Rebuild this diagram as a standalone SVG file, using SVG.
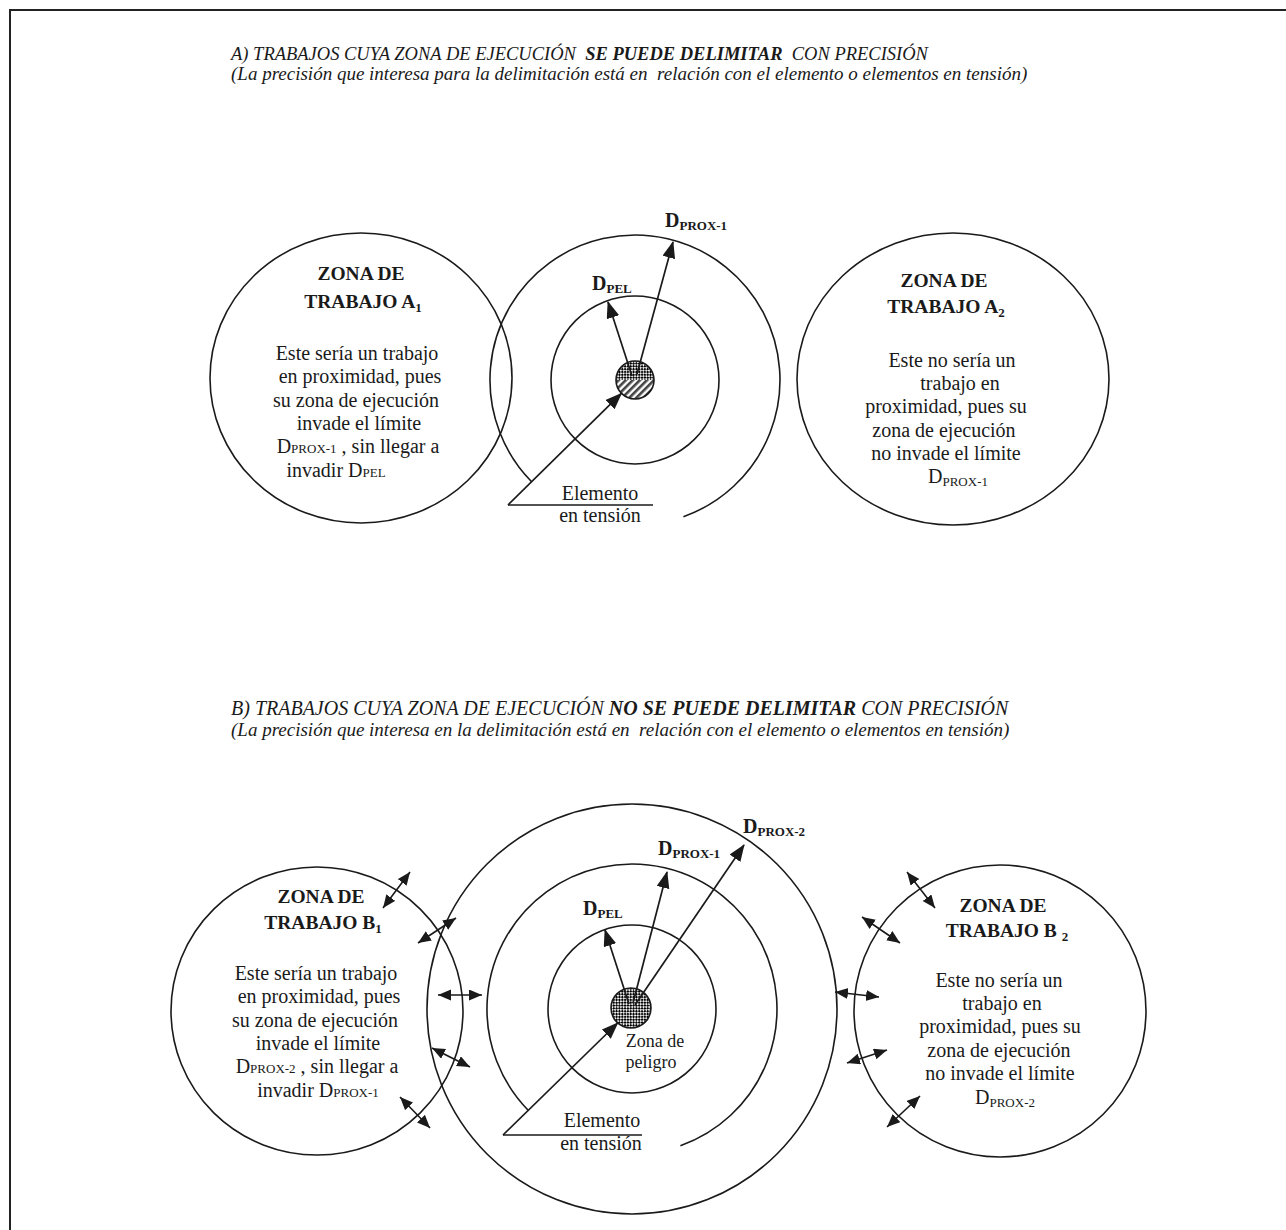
<svg xmlns="http://www.w3.org/2000/svg" width="1286" height="1230" viewBox="0 0 1286 1230">
<style>
 .ln{fill:none;stroke:#1a1a1a;stroke-width:1.6}
 .ar{fill:none;stroke:#1a1a1a;stroke-width:1.7;marker-end:url(#ah)}
 .dar{fill:none;stroke:#1a1a1a;stroke-width:1.6;marker-start:url(#dh);marker-end:url(#dh)}
 text{font-family:"Liberation Serif","Times New Roman",serif;fill:#1a1a1a}
 .t1{font-size:18.5px;font-style:italic}
 .t2{font-size:19px;font-style:italic}
 .t3{font-size:20px;font-style:italic}
 .b{font-weight:bold}
 .h{font-size:19.5px;font-weight:bold;text-anchor:middle}
 .bd{font-size:20px;text-anchor:middle}
 .lbl{font-size:20px;font-weight:bold}
 .sb{font-size:13px}
</style>
<defs>
 <marker id="ah" markerUnits="userSpaceOnUse" markerWidth="18" markerHeight="14" refX="16" refY="6.5" orient="auto"><path d="M0,0 L17,6.5 L0,13 Z" fill="#1a1a1a"/></marker>
 <marker id="dh" markerUnits="userSpaceOnUse" markerWidth="15" markerHeight="13" refX="13" refY="5.5" orient="auto-start-reverse"><path d="M0,0 L13,5.5 L0,11 Z" fill="#1a1a1a"/></marker>
 <pattern id="chk" width="4" height="4" patternUnits="userSpaceOnUse" patternTransform="rotate(45)"><rect width="4" height="4" fill="#fff"/><rect width="2.2" height="2.2" fill="#000"/><rect x="2" y="2" width="2.2" height="2.2" fill="#000"/></pattern>
 <pattern id="str" width="5" height="5" patternUnits="userSpaceOnUse" patternTransform="rotate(45)"><rect width="5" height="5" fill="#fff"/><rect width="2.6" height="5" fill="#444"/></pattern>
</defs>
<rect width="1286" height="1230" fill="#fff"/>
<path d="M10,1230 V10 H1286" fill="none" stroke="#222" stroke-width="2"/>

<g id="title-a">
 <text class="t1" x="231" y="60" xml:space="preserve">A) TRABAJOS CUYA ZONA DE EJECUCIÓN  <tspan class="b">SE PUEDE DELIMITAR</tspan>  CON PRECISIÓN</text>
 <text class="t2" x="231" y="80" xml:space="preserve">(La precisión que interesa para la delimitación está en  relación con el elemento o elementos en tensión)</text>
</g>

<g id="node-a1">
 <ellipse class="ln" cx="361" cy="378" rx="151" ry="145"/>
 <text class="h" x="361" y="280">ZONA DE</text>
 <text class="h" x="363" y="308">TRABAJO A<tspan class="sb" dy="4">1</tspan></text>
 <text class="bd" x="357" y="360">Este sería un trabajo</text>
 <text class="bd" x="360" y="383">en proximidad, pues</text>
 <text class="bd" x="356" y="407">su zona de ejecución</text>
 <text class="bd" x="359" y="430">invade el límite</text>
 <text class="bd" x="358" y="453">D<tspan class="sb">PROX-1</tspan> , sin llegar a</text>
 <text class="bd" x="336" y="477">invadir D<tspan class="sb">PEL</tspan></text>
</g>

<g id="node-a-center">
 <circle class="ln" cx="635" cy="380" r="84"/>
 <path class="ln" d="M683.4,516.7 A145,145 0 1 0 531.4,481.5"/>
 <circle cx="635" cy="380" r="19" fill="url(#chk)"/>
 <path d="M616,380 A19,19 0 0 0 654,380 Z" fill="url(#str)"/>
 <circle class="ln" cx="635" cy="380" r="19"/>
 <text class="lbl" x="592" y="290">D<tspan class="sb" dy="3">PEL</tspan></text>
 <text class="lbl" x="665" y="227">D<tspan class="sb" dy="3">PROX-1</tspan></text>
 <text class="bd" x="600" y="500">Elemento</text>
 <text class="bd" x="600" y="522">en tensión</text>
</g>

<g id="node-a2">
 <ellipse class="ln" cx="953" cy="379" rx="156" ry="146"/>
 <text class="h" x="944" y="287">ZONA DE</text>
 <text class="h" x="946" y="313">TRABAJO A<tspan class="sb" dy="4">2</tspan></text>
 <text class="bd" x="952" y="367">Este no sería un</text>
 <text class="bd" x="960" y="390">trabajo en</text>
 <text class="bd" x="946" y="413">proximidad, pues su</text>
 <text class="bd" x="944" y="437">zona de ejecución</text>
 <text class="bd" x="946" y="460">no invade el límite</text>
 <text class="bd" x="958" y="483">D<tspan class="sb" dy="3">PROX-1</tspan></text>
</g>

<g id="title-b">
 <text class="t3" x="231" y="715" xml:space="preserve">B) TRABAJOS CUYA ZONA DE EJECUCIÓN <tspan class="b">NO SE PUEDE DELIMITAR</tspan> CON PRECISIÓN</text>
 <text class="t2" x="231" y="736" xml:space="preserve">(La precisión que interesa en la delimitación está en  relación con el elemento o elementos en tensión)</text>
</g>

<g id="node-b1">
 <ellipse class="ln" cx="317" cy="1011" rx="146" ry="144"/>
 <text class="h" x="321" y="903">ZONA DE</text>
 <text class="h" x="323" y="929">TRABAJO B<tspan class="sb" dy="4">1</tspan></text>
 <text class="bd" x="316" y="980">Este sería un trabajo</text>
 <text class="bd" x="319" y="1003">en proximidad, pues</text>
 <text class="bd" x="315" y="1027">su zona de ejecución</text>
 <text class="bd" x="318" y="1050">invade el límite</text>
 <text class="bd" x="317" y="1073">D<tspan class="sb">PROX-2</tspan> , sin llegar a</text>
 <text class="bd" x="318" y="1097">invadir D<tspan class="sb">PROX-1</tspan></text>
</g>

<g id="node-b-center">
 <circle class="ln" cx="632" cy="1009" r="205"/>
 <path class="ln" d="M680.4,1145.7 A145,145 0 1 0 528.4,1110.5"/>
 <circle class="ln" cx="632" cy="1009" r="84"/>
 <circle cx="631" cy="1008" r="20" fill="url(#chk)"/>
 <circle class="ln" cx="631" cy="1008" r="20"/>
 <text class="lbl" x="583" y="915">D<tspan class="sb" dy="3">PEL</tspan></text>
 <text class="lbl" x="658" y="855">D<tspan class="sb" dy="3">PROX-1</tspan></text>
 <text class="lbl" x="743" y="833">D<tspan class="sb" dy="3">PROX-2</tspan></text>
 <text class="bd" x="655" y="1047" style="font-size:18px">Zona de</text>
 <text class="bd" x="651" y="1068" style="font-size:18px">peligro</text>
 <text class="bd" x="602" y="1127">Elemento</text>
 <text class="bd" x="601" y="1150">en tensión</text>
</g>

<g id="node-b2">
 <circle class="ln" cx="1000" cy="1011" r="146"/>
 <text class="h" x="1003" y="912">ZONA DE</text>
 <text class="h" x="1007" y="937">TRABAJO B <tspan class="sb" dy="4">2</tspan></text>
 <text class="bd" x="999" y="987">Este no sería un</text>
 <text class="bd" x="1002" y="1010">trabajo en</text>
 <text class="bd" x="1000" y="1033">proximidad, pues su</text>
 <text class="bd" x="999" y="1057">zona de ejecución</text>
 <text class="bd" x="1000" y="1080">no invade el límite</text>
 <text class="bd" x="1005" y="1104">D<tspan class="sb" dy="3">PROX-2</tspan></text>
</g>

<g id="connectors">
 <path class="ln" d="M508,505 H653"/>
 <path class="ar" d="M508,505 L621.4,393.4"/>
 <path class="ar" d="M632,376 L608,302"/>
 <path class="ar" d="M637,374 L673,242"/>
 <path class="ln" d="M503,1135 H642"/>
 <path class="ar" d="M503,1135 L617.7,1023"/>
 <path class="ar" d="M629,1004 L605,930"/>
 <path class="ar" d="M633,1003 L667,872"/>
 <path class="ar" d="M635,1005 L744,845"/>
 <path class="dar" d="M383,908 L410,872"/>
 <path class="dar" d="M418,943 L456,918"/>
 <path class="dar" d="M438,995 L482,995"/>
 <path class="dar" d="M432,1048 L470,1067"/>
 <path class="dar" d="M400,1097 L430,1128"/>
 <path class="dar" d="M907,872 L935,908"/>
 <path class="dar" d="M862,917 L900,943"/>
 <path class="dar" d="M835,992 L879,997"/>
 <path class="dar" d="M847,1063 L887,1050"/>
 <path class="dar" d="M887,1127 L920,1096"/>
</g>
</svg>
